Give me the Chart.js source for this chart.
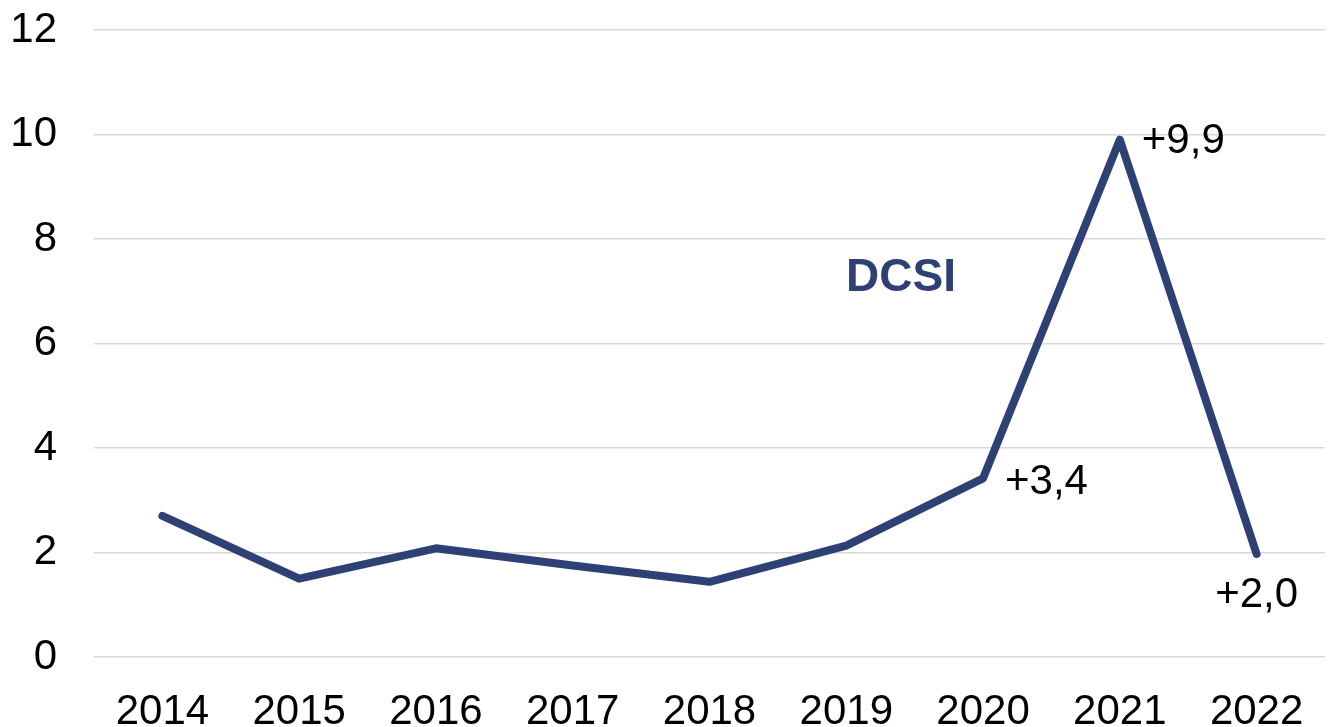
<!DOCTYPE html>
<html>
<head>
<meta charset="utf-8">
<script src="https://cdn.jsdelivr.net/npm/chart.js@4"></script>
<style>
  html, body { margin: 0; padding: 0; background: #fff; }
  #wrap { width: 1328px; height: 727px; }
</style>
</head>
<body>
<div id="wrap"><canvas id="dcsi-chart"></canvas></div>
<script>
let years = ['2014', '2015', '2016', '2017', '2018', '2019', '2020', '2021', '2022'];
let dcsi = [2.7, 1.5, 2.08, 1.75, 1.44, 2.13, 3.42, 9.9, 1.97];
let labelled = [6, 7, 8]; // points that get a value label
let yTicks = [0, 2, 4, 6, 8, 10, 12];

let lineColor = '#2f4075';
let font = 'Arial, "Liberation Sans", sans-serif';

// value labels like "+9,9" and the series name
let annotations = {
  id: 'annotations',
  afterDatasetsDraw(chart) {
    let ctx = chart.ctx;
    let pts = chart.getDatasetMeta(0).data;
    let offsets = { 6: ['left', 'middle', 22, 4], 7: ['left', 'middle', 22, 2], 8: ['center', 'top', 0, 20] };
    ctx.save();
    ctx.font = '42px ' + font;
    ctx.fillStyle = '#000';
    labelled.forEach(i => {
      let o = offsets[i];
      ctx.textAlign = o[0];
      ctx.textBaseline = o[1];
      let txt = '+' + dcsi[i].toFixed(1).replace('.', ',');
      ctx.fillText(txt, pts[i].x + o[2], pts[i].y + o[3]);
    });
    // series name between 2019 and 2020
    let x = chart.scales.x;
    let y = chart.scales.y;
    let nx = x.getPixelForValue(5) + 0.4 * (x.getPixelForValue(6) - x.getPixelForValue(5));
    ctx.font = 'bold 46px ' + font;
    ctx.fillStyle = lineColor;
    ctx.textAlign = 'center';
    ctx.textBaseline = 'middle';
    ctx.fillText('DCSI', nx, y.getPixelForValue(7.25));
    ctx.restore();
  }
};

let chart = new Chart(document.getElementById('dcsi-chart'), {
  type: 'line',
  data: {
    labels: years,
    datasets: [{
      label: 'DCSI',
      data: dcsi,
      borderColor: lineColor,
      borderWidth: 8,
      borderCapStyle: 'round',
      borderJoinStyle: 'round',
      pointRadius: 0,
      tension: 0,
      fill: false
    }]
  },
  options: {
    responsive: true,
    maintainAspectRatio: false,
    animation: false,
    layout: { padding: { top: 30, right: 3, bottom: 0, left: 0 } },
    plugins: {
      legend: { display: false },
      tooltip: { enabled: false }
    },
    scales: {
      x: {
        offset: true,
        grid: { display: false, drawTicks: false },
        border: { display: false },
        ticks: { color: '#000', font: { family: font, size: 42 }, padding: 30, maxRotation: 0 },
        afterFit(scale) {
          scale.height = 70;
          scale.paddingLeft = 0;
          scale.paddingRight = 0;
        }
      },
      y: {
        min: 0,
        max: 12,
        afterBuildTicks(scale) { scale.ticks = yTicks.map(v => ({ value: v })); },
        grid: { color: '#d9d9d9', lineWidth: 1.5, drawTicks: false },
        border: { display: false },
        ticks: { color: '#000', font: { family: font, size: 42 }, padding: 37 },
        afterFit(scale) {
          scale.width = 94;
          scale.paddingTop = 0;
          scale.paddingBottom = 0;
        }
      }
    }
  },
  plugins: [annotations]
});
</script>
</body>
</html>
